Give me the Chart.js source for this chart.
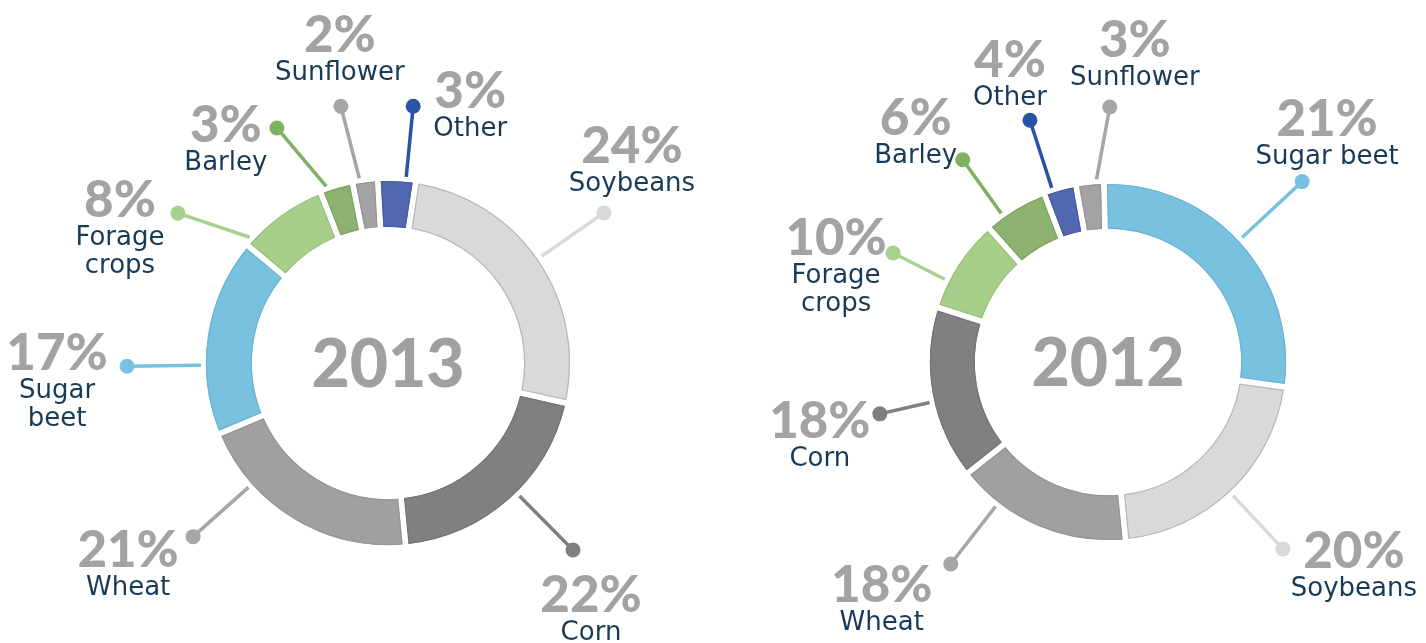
<!DOCTYPE html>
<html>
<head>
<meta charset="utf-8">
<script src="https://cdn.jsdelivr.net/npm/chart.js@4.4.1/dist/chart.umd.min.js"></script>
<style>
  html, body { margin: 0; padding: 0; background: #fff; }
  body { width: 1426px; height: 643px; position: relative; overflow: hidden; }
  .box { position: absolute; top: 0; width: 713px; height: 643px; }
</style>
</head>
<body>
<div class="box" style="left:0"><canvas id="c2013"></canvas></div>
<div class="box" style="left:713px"><canvas id="c2012"></canvas></div>
<script>
// 2013, clockwise from the top
const crops2013 = ["Soybeans", "Corn", "Wheat", "Sugar beet", "Forage crops", "Barley", "Sunflower", "Other"];
const names2013 = [["Soybeans"], ["Corn"], ["Wheat"], ["Sugar", "beet"], ["Forage", "crops"], ["Barley"], ["Sunflower"], ["Other"]];
const pct2013 = [24, 22, 21, 17, 8, 3, 2, 3];
// the arcs in the source don't follow the printed % exactly, these are the drawn sizes
const arc2013 = [26.1, 19.9, 20.2, 17.4, 7.9, 2.9, 2.2, 3.3];

// 2012
const crops2012 = ["Sugar beet", "Soybeans", "Wheat", "Corn", "Forage crops", "Barley", "Other", "Sunflower"];
const names2012 = [["Sugar beet"], ["Soybeans"], ["Wheat"], ["Corn"], ["Forage", "crops"], ["Barley"], ["Other"], ["Sunflower"]];
const pct2012 = [21, 20, 18, 18, 10, 6, 4, 3];
const arc2012 = [27.6, 21.2, 15.9, 15.6, 8.5, 5.8, 2.9, 2.5];

const fillColor = {
  "Soybeans": "#d9d9d9", "Corn": "#808080", "Wheat": "#a0a0a0", "Sugar beet": "#78c2e0",
  "Forage crops": "#a8cf8a", "Barley": "#8db170", "Sunflower": "#a3a3a3", "Other": "#5267af"
};
const edgeColor = {
  "Soybeans": "#b8b8b8", "Corn": "#747474", "Wheat": "#959595", "Sugar beet": "#6cb3d3",
  "Forage crops": "#98c07a", "Barley": "#7fa463", "Sunflower": "#959595", "Other": "#475ca3"
};
const leaderColor = {
  "Soybeans": "#d9d9d9", "Corn": "#7f7f7f", "Wheat": "#a6a6a6", "Sugar beet": "#78c2e0",
  "Forage crops": "#a9d18e", "Barley": "#80b062", "Sunflower": "#a6a6a6", "Other": "#2a54a3"
};

// label layout: [dot angle from top (deg), dot distance past the ring, text dx, text dy]
const layout2013 = [
  [55.2, 81, 28, -50], [135.3, 81, 18, 62], [228.3, 79, -65, 30], [269.3, 79, -70, 4],
  [305.5, 76, -58, 4], [334.7, 78, -51, 14], [349.6, 79, -1, -54], [5.6, 76, 57, 2]
];
const layout2012 = [
  [47.1, 87, 25, -46], [136.9, 78, 71, 19], [217.9, 78, -69, 38], [257.2, 56, -60, 24],
  [296.9, 63, -57, 2], [324.3, 71, -47, -25], [342.1, 76, -20, -43], [0.4, 77, 25, -50]
];

const GAP = 6;
const PCT_FONT = "900 51px Lato";
const NAME_FONT = "26px 'DejaVu Sans'";
const YEAR_FONT = "900 66px Lato";

const cropLabels = {
  id: "cropLabels",
  afterDatasetsDraw(chart, args, opts) {
    const ctx = chart.ctx;
    const arcs = chart.getDatasetMeta(0).data;
    const h = GAP / 2 + 0.5;
    ctx.save();
    // thin darker rim just inside each white gap
    arcs.forEach((arc, i) => {
      const ro = arc.outerRadius - h;
      const ri = arc.innerRadius + h;
      ctx.beginPath();
      ctx.arc(arc.x, arc.y, ro, arc.startAngle + h / ro, arc.endAngle - h / ro);
      ctx.arc(arc.x, arc.y, ri, arc.endAngle - h / ri, arc.startAngle + h / ri, true);
      ctx.closePath();
      ctx.strokeStyle = edgeColor[opts.crops[i]];
      ctx.lineWidth = 1.2;
      ctx.stroke();
    });

    arcs.forEach((arc, i) => {
      const [ang, out, dx, dy] = opts.layout[i];
      const crop = opts.crops[i];
      const R = arc.outerRadius - GAP / 2;
      const a = (ang - 90) * Math.PI / 180;
      let s = a;
      while (s < arc.startAngle - Math.PI) s += 2 * Math.PI;
      while (s > arc.startAngle + Math.PI) s -= 2 * Math.PI;
      const m = Math.min(0.04, (arc.endAngle - arc.startAngle) * 0.3);
      s = Math.min(Math.max(s, arc.startAngle + m), arc.endAngle - m);

      const x0 = arc.x + Math.cos(s) * (R + 5);
      const y0 = arc.y + Math.sin(s) * (R + 5);
      const x1 = arc.x + Math.cos(a) * (R + out);
      const y1 = arc.y + Math.sin(a) * (R + out);

      ctx.strokeStyle = leaderColor[crop];
      ctx.fillStyle = leaderColor[crop];
      ctx.lineWidth = 3.5;
      ctx.beginPath();
      ctx.moveTo(x0, y0);
      ctx.lineTo(x1, y1);
      ctx.stroke();
      ctx.beginPath();
      ctx.arc(x1, y1, 7.5, 0, Math.PI * 2);
      ctx.fill();

      ctx.textAlign = "center";
      ctx.textBaseline = "alphabetic";
      ctx.fillStyle = "#a3a3a3";
      ctx.font = PCT_FONT;
      ctx.fillText(opts.pct[i] + "%", x1 + dx, y1 + dy);
      ctx.fillStyle = "#173a56";
      ctx.font = NAME_FONT;
      opts.names[i].forEach((line, k) => {
        ctx.fillText(line, x1 + dx, y1 + dy + 28 * (k + 1));
      });
    });
    const c = arcs[0];
    ctx.fillStyle = "#a0a0a0";
    ctx.font = YEAR_FONT;
    ctx.textAlign = "center";
    ctx.fillText(opts.year, c.x, c.y + 24);
    ctx.restore();
  }
};

function drawDonut(id, crops, arcs, pct, names, layout, year, rotation, radius, pad) {
  new Chart(document.getElementById(id), {
    type: "doughnut",
    data: {
      labels: crops,
      datasets: [{
        data: arcs,
        backgroundColor: crops.map((c) => fillColor[c]),
        borderColor: "#ffffff",
        borderWidth: GAP,
        borderJoinStyle: "miter",
      }],
    },
    options: {
      responsive: true,
      maintainAspectRatio: false,
      animation: false,
      rotation: rotation,
      radius: radius,
      cutout: "72%",
      layout: { padding: pad },
      events: [],
      plugins: {
        legend: { display: false },
        tooltip: { enabled: false },
        cropLabels: { crops: crops, pct: pct, names: names, layout: layout, year: year },
      },
    },
    plugins: [cropLabels],
  });
}

drawDonut("c2013", crops2013, arc2013, pct2013, names2013, layout2013, "2013", 8.7, 185,
  { left: 63, right: 0, top: 83, bottom: 0 });
drawDonut("c2012", crops2012, arc2012, pct2012, names2012, layout2012, "2012", -1.3, 181,
  { left: 77, right: 0, top: 81, bottom: 0 });
</script>
</body>
</html>
